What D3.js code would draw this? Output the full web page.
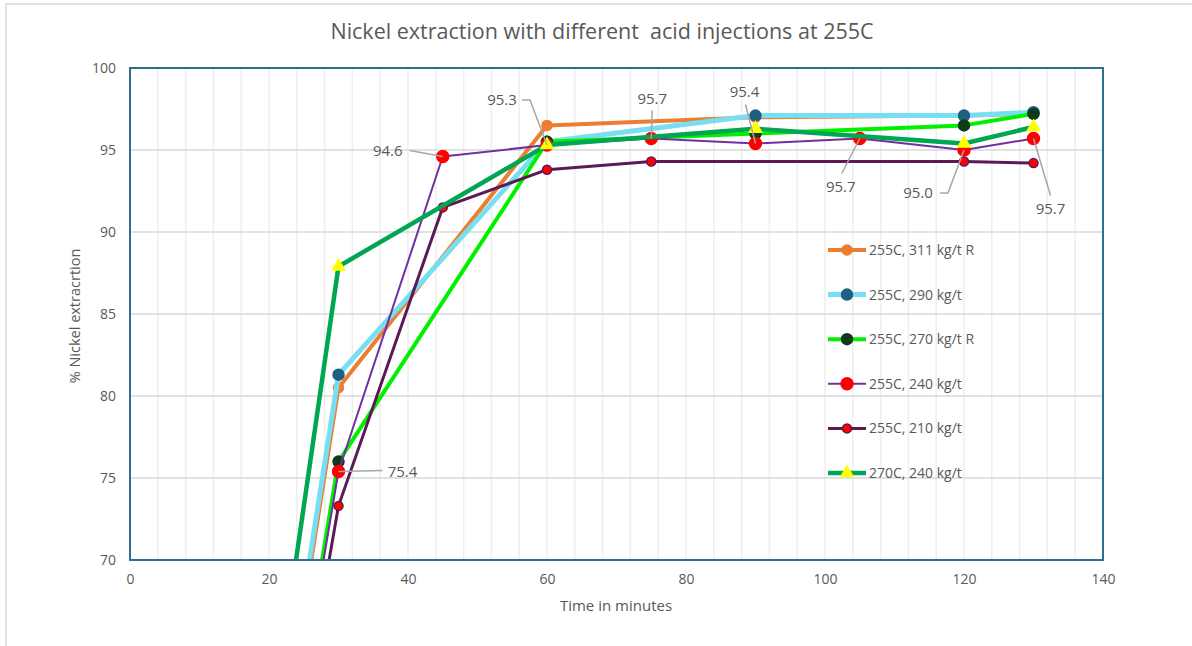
<!DOCTYPE html>
<html>
<head>
<meta charset="utf-8">
<script src="https://cdn.jsdelivr.net/npm/d3@7"></script>
<style>
  body { margin: 0; background: #fff; }
  text { font-family: "Open Sans", "Liberation Sans", sans-serif; fill: #595959; }
</style>
</head>
<body>
<svg width="1192" height="646"></svg>
<script>
// Dados (tempo em minutos, % extração)
var seriesNames = ["255C, 311 kg/t R", "255C, 290 kg/t", "255C, 270 kg/t R", "255C, 240 kg/t", "255C, 210 kg/t", "270C, 240 kg/t"];

var time311 = [0, 30, 60, 90, 120, 130];
var ext311  = [0, 80.5, 96.5, 97.0, 97.1, 97.2];

var time290 = [0, 30, 60, 90, 120, 130];
var ext290  = [0, 81.3, 95.5, 97.1, 97.1, 97.3];

var time270 = [0, 30, 60, 90, 120, 130];
var ext270  = [0, 76.0, 95.5, 96.0, 96.5, 97.2];

var time240 = [0, 30, 45, 60, 75, 90, 105, 120, 130];
var ext240  = [0, 75.4, 94.6, 95.3, 95.7, 95.4, 95.7, 95.0, 95.7];

var time210 = [0, 30, 45, 60, 75, 120, 130];
var ext210  = [0, 73.3, 91.5, 93.8, 94.3, 94.3, 94.2];

var time270C = [0, 30, 60, 90, 120, 130];
var ext270C  = [0, 87.9, 95.3, 96.3, 95.4, 96.4];

var xTicks = [0, 20, 40, 60, 80, 100, 120, 140];
var yTicks = [70, 75, 80, 85, 90, 95, 100];

// Rótulos da série 240 kg/t: deslocamento do texto e início da linha de chamada
var labelCfg = [
  {dx: 64,  dy: 1,   lx: -20, ly: -2, elbow: 0},
  {dx: -55, dy: -6,  lx: 22,  ly: 0,  elbow: 0},
  {dx: -45, dy: -45, lx: 20,  ly: 0,  elbow: 8},
  {dx: 1,   dy: -40, lx: 0,   ly: 12, elbow: 0},
  {dx: -11, dy: -51, lx: 1,   ly: 12, elbow: 0},
  {dx: -19, dy: 48,  lx: 1,   ly: -13, elbow: 0},
  {dx: -46, dy: 43,  lx: 22,  ly: 0,  elbow: 8},
  {dx: 17,  dy: 70,  lx: 0,   ly: -13, elbow: 0}
];

// Estilo de cada série
var styles = [
  {line: "#ED7D31", w: 4,   marker: "circle", fill: "#ED7D31", stroke: "#ED7D31", r: 5},
  {line: "#78DFF3", w: 5,   marker: "circle", fill: "#1F5F80", stroke: "#1F5F80", r: 5.5},
  {line: "#00F000", w: 4,   marker: "circle", fill: "#0E3B18", stroke: "#0E3B18", r: 5.5},
  {line: "#7030A0", w: 2,   marker: "oct",    fill: "#FF0000", stroke: "#FF0000", r: 6},
  {line: "#5B1A55", w: 3,   marker: "circle", fill: "#FF0000", stroke: "#5B1A55", r: 4.5},
  {line: "#00A651", w: 4.5, marker: "tri",    fill: "#FFFF00", stroke: "#FFFF00", r: 6}
];

var allTimes = [time311, time290, time270, time240, time210, time270C];
var allExt = [ext311, ext290, ext270, ext240, ext210, ext270C];
var data = seriesNames.map(function(n, i) {
  return { name: n, pts: allTimes[i].map(function(t, j) { return {t: t, v: allExt[i][j]}; }) };
});

var margin = {top: 68, right: 89, bottom: 86, left: 130},
    width = 1192 - margin.left - margin.right,
    height = 646 - margin.top - margin.bottom;

var svg = d3.select("svg");

// borda externa do gráfico
svg.append("rect").attr("x", 6).attr("y", 4).attr("width", 1200).attr("height", 700)
  .style("fill", "none").style("stroke", "#D9D9D9").style("stroke-width", 1.5);

svg.append("text").attr("x", 602).attr("y", 39).attr("text-anchor", "middle")
  .attr("xml:space", "preserve").style("white-space", "pre")
  .style("font-size", "21.5px").text("Nickel extraction with different  acid injections at 255C");

var g = svg.append("g").attr("transform", "translate(" + margin.left + "," + margin.top + ")");

var x = d3.scaleLinear().domain([0, 140]).range([0, width]);
var y = d3.scaleLinear().domain([70, 100]).range([height, 0]);

// grade vertical (a cada 4 min)
g.append("g").selectAll("line").data(d3.range(4, 140, 4)).enter().append("line")
  .attr("x1", function(d) { return x(d); }).attr("x2", function(d) { return x(d); })
  .attr("y1", 0).attr("y2", height)
  .style("stroke", "#EEEEEE").style("stroke-width", 1.5);

// grade horizontal
g.append("g").selectAll("line").data(yTicks.slice(1, -1)).enter().append("line")
  .attr("x1", 0).attr("x2", width)
  .attr("y1", function(d) { return y(d); }).attr("y2", function(d) { return y(d); })
  .style("stroke", "#D9D9D9").style("stroke-width", 1.5);

// eixos
var xAxis = g.append("g").attr("transform", "translate(0," + height + ")")
  .call(d3.axisBottom(x).tickValues(xTicks).tickSize(0).tickPadding(14));
var yAxis = g.append("g")
  .call(d3.axisLeft(y).tickValues(yTicks).tickSize(0).tickPadding(14));
[xAxis, yAxis].forEach(function(a) {
  a.select(".domain").remove();
  a.selectAll("text").style("font-size", "14px").style("fill", "#595959")
    .style("font-family", "'Open Sans', sans-serif");
});

svg.append("text").attr("x", 616).attr("y", 611).attr("text-anchor", "middle")
  .style("font-size", "15px").text("Time in minutes");
svg.append("text").attr("transform", "translate(80,316) rotate(-90)").attr("text-anchor", "middle")
  .style("font-size", "14.5px").text("% Nickel extracrtion");

// área de recorte
svg.append("clipPath").attr("id", "clip").append("rect")
  .attr("width", width).attr("height", height);

var plot = g.append("g").attr("clip-path", "url(#clip)");

var line = d3.line().x(function(d) { return x(d.t); }).y(function(d) { return y(d.v); });

function drawMarker(sel, s) {
  if (s.marker === "circle") {
    sel.append("circle").attr("r", s.r);
  } else if (s.marker === "oct") {
    sel.append("path").attr("d", d3.symbol().type(d3.symbolCircle).size(Math.PI * s.r * s.r)());
  } else {
    sel.append("path").attr("d", d3.symbol().type(d3.symbolTriangle).size(65)());
  }
  sel.selectAll("circle,path").style("fill", s.fill).style("stroke", s.stroke).style("stroke-width", 1.5);
}

data.forEach(function(s, i) {
  var st = styles[i];
  plot.append("path").datum(s.pts).attr("d", line)
    .style("fill", "none").style("stroke", st.line).style("stroke-width", st.w)
    .style("stroke-linejoin", "round");
  plot.selectAll(".m" + i).data(s.pts.filter(function(p) { return p.t > 0; })).enter()
    .append("g").attr("class", "m" + i)
    .attr("transform", function(p) { return "translate(" + x(p.t) + "," + y(p.v) + ")"; })
    .each(function() { drawMarker(d3.select(this), st); });
});

// rótulos com linhas de chamada
var lbl = g.append("g");
labelCfg.forEach(function(c, k) {
  var p = data[3].pts[k + 1];
  var px = x(p.t), py = y(p.v);
  var tx = px + c.dx, ty = py + c.dy;
  var pts = [[tx + c.lx, ty + c.ly]];
  if (c.elbow) pts.push([tx + c.lx + c.elbow, ty + c.ly]);
  pts.push([px, py]);
  lbl.append("path").attr("d", d3.line()(pts))
    .style("fill", "none").style("stroke", "#A6A6A6").style("stroke-width", 1.5);
  lbl.append("text").attr("x", tx).attr("y", ty + 5).attr("text-anchor", "middle")
    .style("font-size", "15px").text(d3.format(".1f")(p.v));
});

// borda da área de plotagem
g.append("rect").attr("width", width).attr("height", height)
  .style("fill", "none").style("stroke", "#2E6E8E").style("stroke-width", 2);

// legenda
var leg = g.append("g").attr("transform", "translate(698,182)");
data.forEach(function(s, i) {
  var st = styles[i];
  var row = leg.append("g").attr("transform", "translate(0," + (i * 44.6) + ")");
  row.append("line").attr("x1", 0).attr("x2", 38).attr("y1", 0).attr("y2", 0)
    .style("stroke", st.line).style("stroke-width", st.w);
  var m = row.append("g").attr("transform", "translate(19,0)");
  drawMarker(m, st);
  row.append("text").attr("x", 41).attr("y", 5).style("font-size", "14px").text(s.name);
});
</script>
</body>
</html>
